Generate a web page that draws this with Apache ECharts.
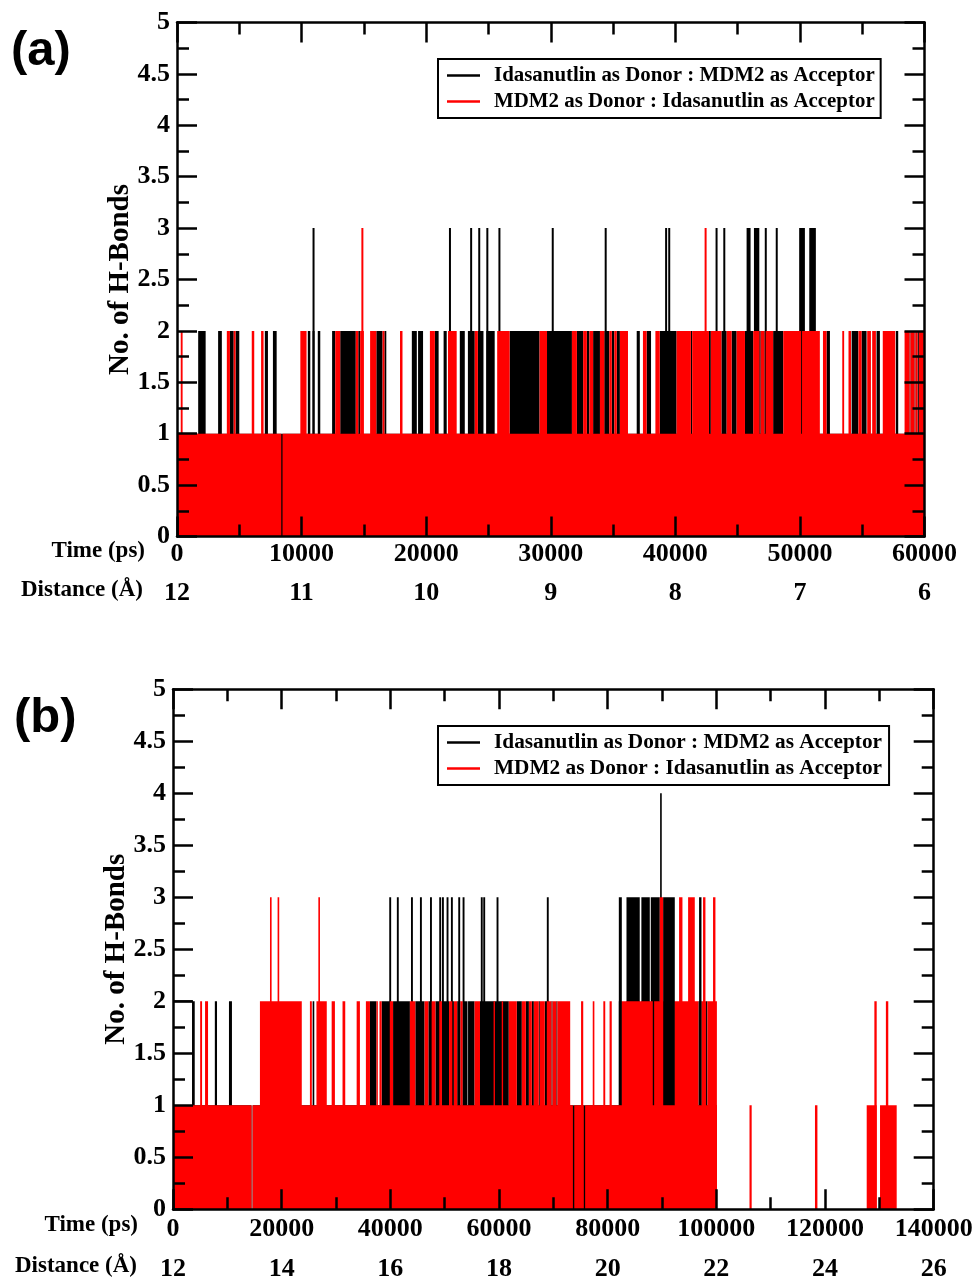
<!DOCTYPE html>
<html>
<head>
<meta charset="utf-8">
<script src="https://cdn.jsdelivr.net/npm/echarts@6/dist/echarts.min.js"></script>
<style>
html,body{margin:0;padding:0;background:#fff;}
#chart{width:975px;height:1277px;}
</style>
</head>
<body>
<div id="chart"></div>
<script>
// ---------- names / labels ----------
const nameBlack = 'Idasanutlin as Donor : MDM2 as Acceptor';
const nameRed = 'MDM2 as Donor : Idasanutlin as Acceptor';
const aDistanceLabels = ['12', '11', '10', '9', '8', '7', '6'];
const bDistanceLabels = ['12', '14', '16', '18', '20', '22', '24', '26'];
const aTimeMax = 60000, aTimeStep = 10000;
const bTimeMax = 140000, bTimeStep = 20000;
const yMax = 5, yStep = 0.5;

// ---------- panel (a): intervals [start, end] in ps at each H-bond count ----------
const aBlackTwo = [[1700,2300],[3300,3600],[4250,4550],[4700,5000],[7050,7300],[7700,8000],[10500,10700],[11300,11500],[12450,12700],[13100,14350],[14550,14700],[16000,16500],[16650,16800],[18850,19250],[19350,19750],[20700,21000],[21400,21650],[22700,23100],[23350,23900],[24150,24600],[24900,25500],[26700,29100],[29700,31700],[32100,32600],[32900,33100],[33400,33950],[34300,34700],[34900,35100],[35300,35550],[36900,37150],[37700,38050],[38750,40100],[41250,41350],[42700,42850],[43700,44120],[44520,44920],[45590,46250],[46750,46850],[47150,47250],[47850,48660],[50100,50170],[52140,52410],[54150,54690],[54950,55350],[56150,56420],[57700,57890],[58800,58870],[59200,59270],[59450,59550]];
const aBlackThree = [[10880,11040],[21830,21990],[23530,23690],[24180,24340],[24830,24990],[25800,25960],[30080,30240],[34330,34490],[39180,39340],[39430,39590],[43230,43390],[43850,44010],[45720,46040],[46310,46740],[47180,47340],[48060,48220],[49940,50400],[50750,51280]];
const aRedZero = [[8370,8470]];
const aRedTwo = [[300,450],[4000,4250],[4550,4700],[6000,6200],[6750,6950],[9900,10400],[12700,13100],[14350,14550],[14700,15000],[15500,16000],[16500,16650],[17900,18100],[20300,20700],[21750,22450],[23900,24150],[25700,26700],[29100,29700],[31700,32100],[32600,32900],[33100,33400],[33950,34300],[34700,34900],[35100,35300],[35550,36200],[37400,37700],[38400,38750],[40100,41250],[41350,42700],[42850,43700],[44120,44520],[44920,45590],[46250,46750],[46850,47150],[47250,47850],[48660,50100],[50170,51600],[51850,52140],[53400,53550],[53900,54100],[54700,54950],[55400,55700],[55800,56100],[56650,57650],[58400,58800],[58870,59200],[59270,59450],[59550,59950]];
const aRedThree = [[14800,14960],[42350,42510]];

// ---------- panel (b) ----------
const bBlackHollow = [[0,3600]];
const bBlackZero = [[14450,14650],[100100,134000]];
const bBlackTwo = [[3500,4000],[7700,8100],[10300,10850],[25700,26000],[36250,37450],[38400,39900],[40500,43600],[44600,46300],[47000,47600],[48300,49000],[49500,50800],[51400,51700],[52300,52900],[53300,54200],[54300,55500],[56500,61800],[63280,64200],[64940,65500],[66040,66410],[67320,67510],[68430,68800],[69650,69850],[70550,70750],[88300,88550],[96700,97300],[98100,98350]];
const bBlackThree = [[39800,40150],[41200,41550],[43800,44150],[45450,45800],[47300,47650],[49000,49350],[49500,49850],[50350,50700],[51150,51500],[52500,52850],[53300,53650],[56650,57000],[57100,57450],[59550,59900],[68800,69150],[82050,82600],[83460,85900],[86200,87750],[87930,89590],[90200,92350],[96820,97260]];
const bBlackFour = [[89650,89950]];
const bRedZero = [[14450,14650],[73600,73850],[75600,75850],[100100,134000]];
const bRedOne = [[106100,106500],[118150,118600],[127670,129510],[130120,133190]];
const bRedTwo = [[5000,5350],[5900,6450],[16000,23700],[25200,25550],[26400,28300],[29200,29800],[31200,31700],[33800,34400],[35500,36250],[37450,37700],[38000,38400],[39900,40500],[43600,44600],[46300,47000],[47600,48300],[49000,49500],[50800,51400],[51700,52300],[52900,53300],[55500,56500],[59000,59250],[60500,60750],[61800,63280],[64200,64940],[65500,66040],[66410,67320],[67510,68430],[68800,69650],[69850,70550],[70750,73100],[75100,75500],[77250,77550],[79200,79550],[80350,80750],[82600,88300],[88550,90200],[92350,96700],[97300,98100],[98350,100100],[129080,129510],[131200,131640]];
const bRedThree = [[17850,18150],[19250,19550],[26750,27050],[89590,90200],[93140,93760],[94800,96030],[97550,97990],[99390,99830]];
const bDataEnd = 134000;

// ---------- turn interval layers into overlapping bands [start, end, k] (count >= k) ----------
function buildBands(tEnd, base, layers) {
  const cuts = new Set([0, tEnd]);
  layers.forEach(([lvl, iv]) => iv.forEach(([s, e]) => { cuts.add(s); cuts.add(e); }));
  const ts = [...cuts].filter(t => t >= 0 && t <= tEnd).sort((a, b) => a - b);
  const runs = [];
  for (let i = 0; i < ts.length - 1; i++) {
    const mid = (ts[i] + ts[i + 1]) / 2;
    let v = base;
    layers.forEach(([lvl, iv]) => { if (iv.some(([s, e]) => mid > s && mid < e)) v = lvl; });
    runs.push([ts[i], ts[i + 1], v]);
  }
  const maxLvl = Math.max(...runs.map(r => r[2]));
  const bands = [];
  for (let k = 1; k <= maxLvl; k++) {
    let cur = null;
    runs.forEach(([s, e, v]) => {
      if (v >= k) { if (cur && cur[1] === s) cur[1] = e; else { cur = [s, e, k]; bands.push(cur); } }
      else cur = null;
    });
  }
  return bands;
}

const aBlackBands = buildBands(aTimeMax, 1, [[2, aBlackTwo], [3, aBlackThree]]);
const aRedBands = buildBands(aTimeMax, 1, [[0, aRedZero], [2, aRedTwo], [3, aRedThree]]);
const bBlackBands = buildBands(bDataEnd, 1, [[0, bBlackZero], [2, bBlackTwo], [3, bBlackThree], [4, bBlackFour]]);
const bRedBands = buildBands(bDataEnd, 1, [[0, bRedZero], [1, bRedOne], [2, bRedTwo], [3, bRedThree]]);
const bHollowData = [];
bBlackHollow.forEach(([s, e]) => { bHollowData.push([s, 2], [e, 2]); });

// ---------- styling helpers ----------
const SERIF = 'Liberation Serif';
const BLACK = '#000000';
const RED = '#ff0000';
const lblStyle = { fontFamily: SERIF, fontWeight: 'bold', fontSize: 26, color: BLACK };
function nameStyle(padTop) {
  return { fontFamily: SERIF, fontWeight: 'bold', fontSize: 23, color: BLACK, verticalAlign: 'top', lineHeight: 23, padding: [padTop, 0, 0, 0] };
}
function xSide(grid, max, step, pos, major, extra) {
  return Object.assign({
    type: 'value', gridIndex: grid, min: 0, max: max, interval: major ? step : step / 2, position: pos, z: 10,
    axisLine: { show: major, onZero: false, lineStyle: { color: BLACK, width: 2.5 } },
    axisTick: { show: true, inside: true, length: major ? 20 : 12, lineStyle: { color: BLACK, width: 2.5 } },
    splitLine: { show: false }, axisLabel: { show: false }
  }, extra || {});
}
function ySide(grid, pos, major, extra) {
  return Object.assign({
    type: 'value', gridIndex: grid, min: 0, max: yMax, interval: major ? yStep : yStep / 2, position: pos, z: 10,
    axisLine: { show: major, onZero: false, lineStyle: { color: BLACK, width: 2.5 } },
    axisTick: { show: true, inside: true, length: major ? 20 : 12, lineStyle: { color: BLACK, width: 2.5 } },
    splitLine: { show: false }, axisLabel: { show: false }
  }, extra || {});
}
function timeLabels(margin, gap, padTop) {
  return {
    axisLabel: Object.assign({ show: true, margin: margin, showMinLabel: true, showMaxLabel: true, formatter: v => String(v) }, lblStyle),
    name: 'Time (ps)', nameLocation: 'start', nameGap: gap, nameMoveOverlap: false, nameTextStyle: nameStyle(padTop)
  };
}
function distAxis(grid, max, step, labels, offset, margin, gap, padTop) {
  return {
    type: 'value', gridIndex: grid, min: 0, max: max, interval: step, position: 'bottom', offset: offset, z: 10,
    axisLine: { show: false, onZero: false }, axisTick: { show: false }, splitLine: { show: false },
    axisLabel: Object.assign({ margin: margin, showMinLabel: true, showMaxLabel: true,
      formatter: v => labels[Math.round(v / step)] }, lblStyle),
    name: 'Distance (Å)', nameLocation: 'start', nameGap: gap, nameMoveOverlap: false, nameTextStyle: nameStyle(padTop)
  };
}
const yLabels = {
  axisLabel: Object.assign({ show: true, margin: 7, showMinLabel: true, showMaxLabel: true }, lblStyle),
  name: 'No. of H-Bonds', nameLocation: 'middle', nameGap: 42, nameRotate: 90, nameMoveOverlap: false,
  nameTextStyle: { fontFamily: SERIF, fontWeight: 'bold', fontSize: 29, color: BLACK }
};
function bandSeries(name, color, xi, yi, bands) {
  return {
    name: name, type: 'custom', xAxisIndex: xi, yAxisIndex: yi, data: bands,
    encode: { x: [0, 1], y: 2 }, color: color, itemStyle: { color: color },
    clip: true, animation: false, silent: true,
    renderItem: (params, api) => {
      const top = api.coord([api.value(0), api.value(2)]);
      const bot = api.coord([api.value(1), 0]);
      return { type: 'rect', shape: { x: top[0], y: top[1], width: bot[0] - top[0], height: bot[1] - top[1] },
               style: { fill: color } };
    }
  };
}
function legendBox(top, fs, padR) {
  return {
    data: [nameBlack, nameRed], orient: 'vertical', left: 438, top: top,
    icon: 'rect', itemWidth: 33, itemHeight: 2.5, itemGap: 5,
    padding: [6, padR, 6, 9], borderColor: BLACK, borderWidth: 2, backgroundColor: '#fff',
    selectedMode: false,
    textStyle: { fontFamily: SERIF, fontWeight: 'bold', fontSize: fs, color: BLACK, padding: [0, 0, 0, 9] }
  };
}

const chart = echarts.init(document.getElementById('chart'), null, { renderer: 'canvas' });
chart.setOption({
  backgroundColor: '#ffffff',
  animation: false,
  grid: [
    { left: 177, right: 50.5, top: 22.5, bottom: 740.5, outerBoundsMode: 'none', containLabel: false },
    { left: 173, right: 41.3, top: 689.3, bottom: 67.7, outerBoundsMode: 'none', containLabel: false }
  ],
  xAxis: [
    xSide(0, aTimeMax, aTimeStep, 'bottom', true, timeLabels(5, 32, 3)),   // 0
    xSide(0, aTimeMax, aTimeStep, 'bottom', false),                         // 1
    xSide(0, aTimeMax, aTimeStep, 'top', true),                             // 2
    xSide(0, aTimeMax, aTimeStep, 'top', false),                            // 3
    distAxis(0, aTimeMax, aTimeStep, aDistanceLabels, 39, 5, 34, 3),        // 4
    xSide(1, bTimeMax, bTimeStep, 'bottom', true, timeLabels(7, 35, 4)),   // 5
    xSide(1, bTimeMax, bTimeStep, 'bottom', false),                         // 6
    xSide(1, bTimeMax, bTimeStep, 'top', true),                             // 7
    xSide(1, bTimeMax, bTimeStep, 'top', false),                            // 8
    distAxis(1, bTimeMax, bTimeStep, bDistanceLabels, 41, 6, 36, 4)         // 9
  ],
  yAxis: [
    ySide(0, 'left', true, yLabels),
    ySide(0, 'left', false),
    ySide(0, 'right', true),
    ySide(0, 'right', false),
    ySide(1, 'left', true, yLabels),
    ySide(1, 'left', false),
    ySide(1, 'right', true),
    ySide(1, 'right', false)
  ],
  legend: [legendBox(59, 20.9, 6), legendBox(726, 21.3, 7)],
  graphic: [
    { type: 'text', left: 11, top: 27, style: { text: '(a)', font: 'bold 49px "Liberation Sans"', fill: BLACK } },
    { type: 'text', left: 14, top: 694, style: { text: '(b)', font: 'bold 49px "Liberation Sans"', fill: BLACK } }
  ],
  series: [
    bandSeries(nameBlack, BLACK, 0, 0, aBlackBands),
    bandSeries(nameRed, RED, 0, 0, aRedBands),
    bandSeries(nameBlack, BLACK, 5, 4, bBlackBands),
    bandSeries(nameRed, RED, 5, 4, bRedBands),
    {
      name: nameBlack, type: 'line', xAxisIndex: 5, yAxisIndex: 4, data: bHollowData,
      showSymbol: false, symbol: 'none', color: BLACK, lineStyle: { width: 2, color: BLACK },
      animation: false, silent: true
    }
  ]
});
</script>
</body>
</html>
